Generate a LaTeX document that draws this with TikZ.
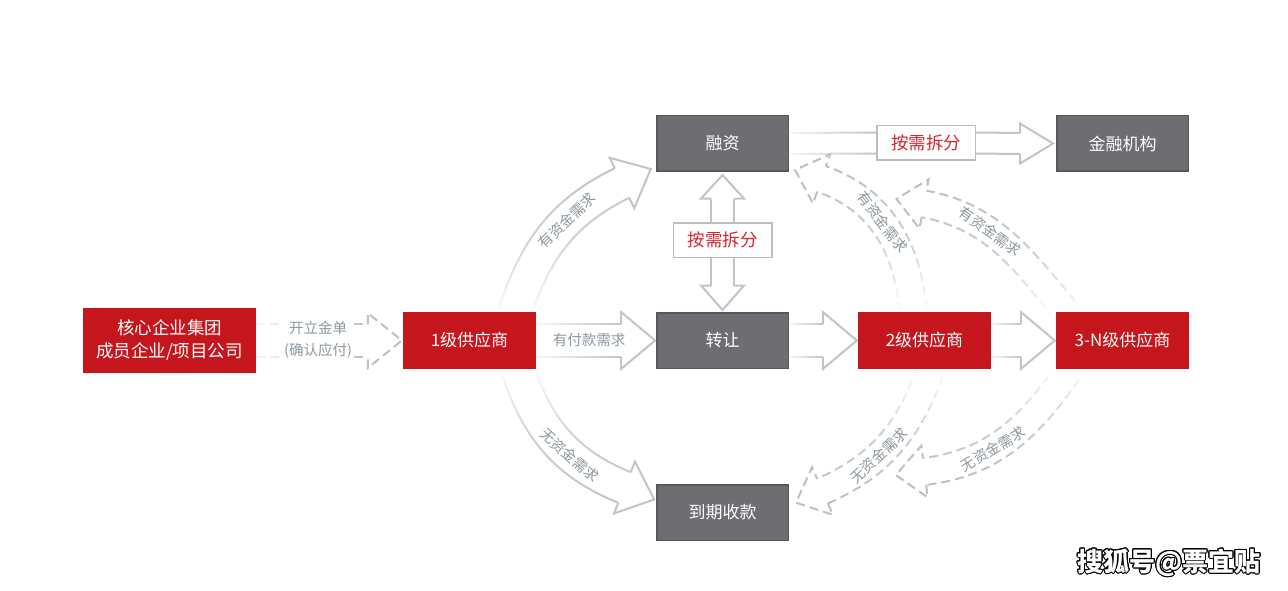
\documentclass[tikz,border=0pt]{standalone}
\usepackage{fontspec}
\setmainfont{Noto Sans CJK SC}
\usepackage{contour}
\contourlength{1pt}
\usetikzlibrary{calc,fadings}
\definecolor{redc}{HTML}{C5161D}
\definecolor{grayf}{HTML}{6E6D72}
\definecolor{grayb}{HTML}{58575C}
\definecolor{arrg}{HTML}{C4C4C4}
\definecolor{dashg}{HTML}{C0C0C0}
\definecolor{lblg}{HTML}{8E98A2}
\definecolor{splitr}{HTML}{D9232D}
\definecolor{splitb}{HTML}{BDBDBD}
\tikzfading[name=fadeB, top color=transparent!0, bottom color=transparent!100, middle color=transparent!25]
\tikzfading[name=fadeT, top color=transparent!100, bottom color=transparent!0, middle color=transparent!25]
\tikzfading[name=fadeL, left color=transparent!85, right color=transparent!0]
\pgfdeclarelayer{background}
\pgfsetlayers{background,main}
\newcommand{\cband}[7]{%
  \pgfmathsetmacro\cbIn{#6+180}%
  \pgfmathsetmacro\cbSL{#4+90}\pgfmathsetmacro\cbSR{#4-90}%
  \pgfmathsetmacro\cbEL{#6+90}\pgfmathsetmacro\cbER{#6-90}%
  \draw[#1,path fading=#2] ($(#3)+(\cbSL:#7)$) to[out=#4,in=\cbIn] ($(#5)+(\cbEL:#7)$)
     ($(#3)+(\cbSR:#7)$) to[out=#4,in=\cbIn] ($(#5)+(\cbER:#7)$);%
}
\newcommand{\bhead}[6]{%
  \begin{scope}[shift={(#2)},rotate=#3]
    \draw[#1] (0,#4) -- (0,#5) -- (#6,0) -- (0,-#5) -- (0,-#4);
  \end{scope}%
}
\tikzset{
  boxtext/.style={font=\fontsize{17}{22}\selectfont},
  redbox/.style={boxtext, fill=redc, text=white, minimum width=133pt, minimum height=57pt, inner sep=0pt},
  graybox/.style={boxtext, draw=grayb, line width=1.5pt, fill=grayf, text=white, minimum width=131.5pt, minimum height=55.5pt, inner sep=0pt},
  splitbox/.style={draw=splitb, line width=1.5pt, fill=white, text=splitr, font=\fontsize{17.5}{20}\selectfont, minimum width=98.5pt, minimum height=34.5pt, inner sep=0pt},
  sline/.style={draw=arrg, line width=2pt},
  shead/.style={draw=arrg, line width=2pt, line join=miter},
  dline/.style={draw=dashg, line width=2pt, dash pattern=on 9pt off 5pt},
  dhead/.style={dline, line join=miter},
  lbl/.style={text=lblg, font=\fontsize{14.5}{22}\selectfont, inner sep=1pt},
}
\begin{document}
\begin{tikzpicture}[x=1pt,y=1pt]
\useasboundingbox (0,0) rectangle (1288,-591);

% boxes
\node[redbox, minimum width=173pt, minimum height=65pt, align=center, font=\fontsize{17.5}{23}\selectfont] (core) at (169.5,-340.5) {核心企业集团\\成员企业/项目公司};
\node[redbox] (n1) at (469.5,-340.5) {1级供应商};
\node[graybox] (rz) at (722.5,-143.5) {融资};
\node[graybox] (zr) at (722.5,-340.5) {转让};
\node[graybox] (dq) at (722.5,-512.5) {到期收款};
\node[redbox] (n2) at (924.5,-340.5) {2级供应商};
\node[redbox] (n3) at (1122.5,-340.5) {3-N级供应商};
\node[graybox] (jr) at (1122.5,-143.5) {金融机构};
\node[splitbox] (sp1) at (722.5,-240) {按需拆分};
\node[splitbox] (sp2) at (926,-143) {按需拆分};

\begin{pgfonlayer}{background}
\fill[white] (0,0) rectangle (1288,-591);
% core -> n1 (dashed)
\draw[dline, path fading=fadeL] ($(core.east)+(0,16.5)$) -- ($(n1.west)+(-35,16.5)$)
   ($(core.east)+(0,-16.5)$) -- ($(n1.west)+(-35,-16.5)$);
\bhead{dhead}{$(n1.west)+(-35,0)$}{0}{16.5}{27.5}{34}

% n1 -> zr
\draw[sline, path fading=fadeL] ($(n1.east)+(0,16.5)$) -- ($(zr.west)+(-35,16.5)$)
   ($(n1.east)+(0,-16.5)$) -- ($(zr.west)+(-35,-16.5)$);
\bhead{shead}{$(zr.west)+(-35,0)$}{0}{16.5}{28.5}{34}

% zr -> n2
\draw[sline, path fading=fadeL] ($(zr.east)+(1,16.5)$) -- ($(n2.west)+(-35,16.5)$)
   ($(zr.east)+(1,-16.5)$) -- ($(n2.west)+(-35,-16.5)$);
\bhead{shead}{$(n2.west)+(-35,0)$}{0}{16.5}{28.5}{34}

% n2 -> n3
\draw[sline, path fading=fadeL] ($(n2.east)+(0,16.5)$) -- ($(n3.west)+(-35,16.5)$)
   ($(n2.east)+(0,-16.5)$) -- ($(n3.west)+(-35,-16.5)$);
\bhead{shead}{$(n3.west)+(-35,0)$}{0}{16.5}{28.5}{34}

% rz <-> zr (vertical double arrow)
\draw[sline] ($(rz.south)+(-11.5,-26.5)$) -- ($(zr.north)+(-11.5,26.5)$)
   ($(rz.south)+(11.5,-26.5)$) -- ($(zr.north)+(11.5,26.5)$);
\bhead{shead}{$(rz.south)+(0,-26.5)$}{90}{11.5}{21.5}{23.5}
\bhead{shead}{$(zr.north)+(0,26.5)$}{-90}{11.5}{21.5}{24.5}

% rz -> jr
\draw[sline, path fading=fadeL] ($(rz.east)+(1,10.5)$) -- ($(sp2.west)+(0,10.5)$)
   ($(rz.east)+(1,-10.5)$) -- ($(sp2.west)+(0,-10.5)$);
\draw[sline] ($(sp2.east)+(0,10.5)$) -- ($(jr.west)+(-36,10.5)$)
   ($(sp2.east)+(0,-10.5)$) -- ($(jr.west)+(-36,-10.5)$);
\bhead{shead}{$(jr.west)+(-36,0)$}{0}{10.5}{20}{33}

% curved A: n1 -> rz
\coordinate (aS) at (515,-312);
\coordinate (aE) at (622,-183);
\cband{sline}{fadeB}{aS}{72}{aE}{26}{16.5}
\bhead{shead}{aE}{26}{16.5}{28}{32}

% curved B: n1 -> dq
\coordinate (bS) at (518,-370);
\coordinate (bE) at (624.5,-487.5);
\cband{sline}{fadeT}{bS}{-72}{bE}{-22}{16.5}
\bhead{shead}{bE}{-22}{16.5}{28}{32}

% curved F: n3 -> below (dashed)
\coordinate (fS) at (1068,-372);
\coordinate (fE) at (924.5,-471.5);
\cband{dline}{fadeT}{fS}{235}{fE}{187}{13.5}
\bhead{dhead}{fE}{187}{13.5}{26}{29}

% curved E: n2 -> dq (dashed)
\coordinate (eS) at (930,-372);
\coordinate (eE) at (822.5,-491);
\cband{dline}{fadeT}{eS}{250}{eE}{203.6}{13.5}
\bhead{dhead}{eE}{203.6}{13.5}{26}{29}

% curved D: n3 -> up (dashed)
\coordinate (dS) at (1065,-310);
\coordinate (dE) at (924,-204);
\cband{dline}{fadeB}{dS}{130}{dE}{169.5}{13.5}
\bhead{dhead}{dE}{169.5}{13.5}{25}{28}

% curved C: n2 -> rz (dashed)
\coordinate (cS) at (913,-310);
\coordinate (cE) at (821.5,-179);
\cband{dline}{fadeB}{cS}{95}{cE}{161}{13.5}
\bhead{dhead}{cE}{161}{13.5}{26}{28}
\end{pgfonlayer}

% labels
\node[lbl, fill=white, align=center] (kl) at (318,-340) {开立金单\\(确认应付)};
\node[lbl] (fk) at (589,-340.5) {有付款需求};
\path (aS) to[out=72,in=206] node[pos=.62,sloped,lbl] (la) {有资金需求} (aE);
\path (bS) to[out=-72,in=158] node[pos=.62,sloped,lbl] (lb) {无资金需求} (bE);
\path (cS) to[out=95,in=-19] node[pos=.55,sloped,lbl] (lc) {有资金需求} (cE);
\path (dS) to[out=130,in=-10.5] node[pos=.6,sloped,lbl] (ld) {有资金需求} (dE);
\path (eS) to[out=250,in=23.6] node[pos=.6,sloped,lbl] (le) {无资金需求} (eE);
\path (fS) to[out=235,in=7] node[pos=.6,sloped,lbl] (lf) {无资金需求} (fE);

% watermark
\node[font=\fontsize{26}{28}\selectfont\bfseries, text=white] (wm) at (1169,-563) {\contour{black}{搜狐号@票宜贴}};
\end{tikzpicture}
\end{document}
